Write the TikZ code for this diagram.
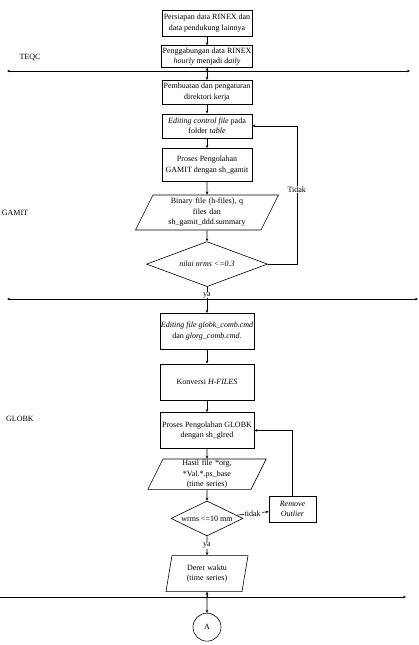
\documentclass[tikz,border=0pt]{standalone}
\usepackage{fontspec}
\setmainfont{Liberation Serif}
\usetikzlibrary{arrows.meta, positioning, shapes.geometric, calc}

\begin{document}
\begin{tikzpicture}[
    x=1pt, y=1pt,
    font=\fontsize{8}{10.5}\selectfont,
    box/.style={draw, align=center, minimum width=90pt, inner sep=1pt, line width=0.6pt},
    io/.style={draw, trapezium, trapezium left angle=#1, trapezium right angle=180-#1,
        trapezium stretches body, align=center, inner ysep=1pt, line width=0.6pt},
    decision/.style={draw, diamond, aspect=2, inner sep=0pt, align=center, line width=0.6pt},
    arrow/.style={-{Stealth[length=3pt, width=2.6pt]}, line width=0.6pt},
    lane/.style={{Stealth[length=3pt, width=2.6pt]}-{Stealth[length=3pt, width=2.6pt]}, line width=0.8pt},
    lbl/.style={fill=white, inner sep=1pt},
]
\useasboundingbox (0,0) rectangle (419,-645);

% Main column
\node[box, minimum height=26pt] (prep) at (207,-23) {Persiapan data RINEX dan\\data pendukung lainnya};
\node[box, minimum height=22pt, below=9pt of prep] (merge) {Penggabungan data RINEX\\\textit{hourly} menjadi \textit{daily}};
\node[box, minimum height=24pt, below=12pt of merge] (dir) {Pembuatan dan pengaturan\\direktori kerja};
\node[box, minimum height=24pt, below=9pt of dir] (ctrl) {\textit{Editing control file} pada\\folder \textit{table}};
\node[box, minimum height=33pt, below=10pt of ctrl] (gamit) {Proses Pengolahan\\GAMIT dengan sh\_gamit};
\node[io=60, minimum height=35pt, text width=100pt, inner xsep=4pt, below=13pt of gamit] (bin) {Binary file (h-files), q\\files dan\\sh\_gamit\_ddd.summary};
\node[decision, minimum width=121pt, minimum height=45pt, below=11pt of bin] (nrms) {\textit{nilai nrms <=0.3}};

\node[box, minimum width=94pt, minimum height=36pt, below=26pt of nrms] (globkcmd) {\textit{Editing file globk\_comb.cmd}\\dan \textit{glorg\_comb.cmd.}};
\node[box, minimum width=94pt, minimum height=36pt, below=14pt of globkcmd] (hconv) {Konversi \textit{H-FILES}};
\node[box, minimum width=94pt, minimum height=36pt, below=12pt of hconv] (globk) {Proses Pengolahan GLOBK\\dengan sh\_glred};
\node[io=63.4, minimum height=30pt, text width=82pt, inner xsep=3pt, below=10pt of globk] (hasil) {Hasil file *org,\\{*}Val.*.ps\_base\\(time series)};
\node[decision, minimum width=72pt, minimum height=35pt, below=11pt of hasil] (wrms) {wrms <=10 mm};
\node[io=73, minimum height=36pt, text width=64pt, inner xsep=3pt, below=19pt of wrms] (deret) {Deret waktu\\(time series)};
\node[draw, circle, minimum size=28pt, inner sep=0pt, line width=0.6pt, below=21pt of deret] (circA) {A};

% Side box
\node[box, minimum width=47pt, minimum height=26pt] (remove) at (292.5,-509) {\textit{Remove}\\\textit{Outlier}};

% Stage lanes
\coordinate (teqcL) at (7,-71);
\coordinate (teqcR) at (410,-71);
\coordinate (teqcX) at (207,-71);
\coordinate (gamitL) at (7,-299);
\coordinate (gamitR) at (418,-299);
\coordinate (globkL) at (0,-597);
\coordinate (globkR) at (406,-597);
\coordinate (globkX) at (207,-597);
\draw[lane] (teqcL) -- (teqcR);
\draw[lane] (gamitL) -- (gamitR);
\draw[arrow, line width=0.8pt] (globkL) -- (globkR);
\node (teqc) at (30,-57) {TEQC};
\node (gamitlbl) at (15,-213) {GAMIT};
\node (globklbl) at (20,-419) {GLOBK};

% Flow
\draw[arrow] (prep) -- (merge);
\draw[arrow] (merge) -- (dir);
\draw[arrow] (teqcX) -- (merge.south);
\draw[arrow] (dir) -- (ctrl);
\draw[arrow] (ctrl) -- (gamit);
\draw[arrow] (gamit) -- (bin);
\draw[arrow] (bin) -- (nrms);
\draw[arrow] (nrms.east) -| ++(29,0) |- (ctrl.east) node[lbl, pos=0.27] {Tidak};
\draw[arrow] (nrms) -- (globkcmd);
\node[lbl, inner sep=0.5pt] (ya1) at (207,-295) {ya};
\draw[arrow] (globkcmd) -- (hconv);
\draw[arrow] (hconv) -- (globk);
\draw[arrow] (globk) -- (hasil);
\draw[arrow] (hasil) -- (wrms);
\draw[arrow] (wrms) -- (remove) node[lbl, midway] {tidak};
\draw[arrow] (remove.north) |- (globk.east);
\draw[arrow] (wrms) -- (deret) node[lbl, midway] {ya};
\draw[arrow] (deret) -- (circA);
\draw[arrow] (globkX) -- (deret.south);

\end{tikzpicture}
\end{document}
